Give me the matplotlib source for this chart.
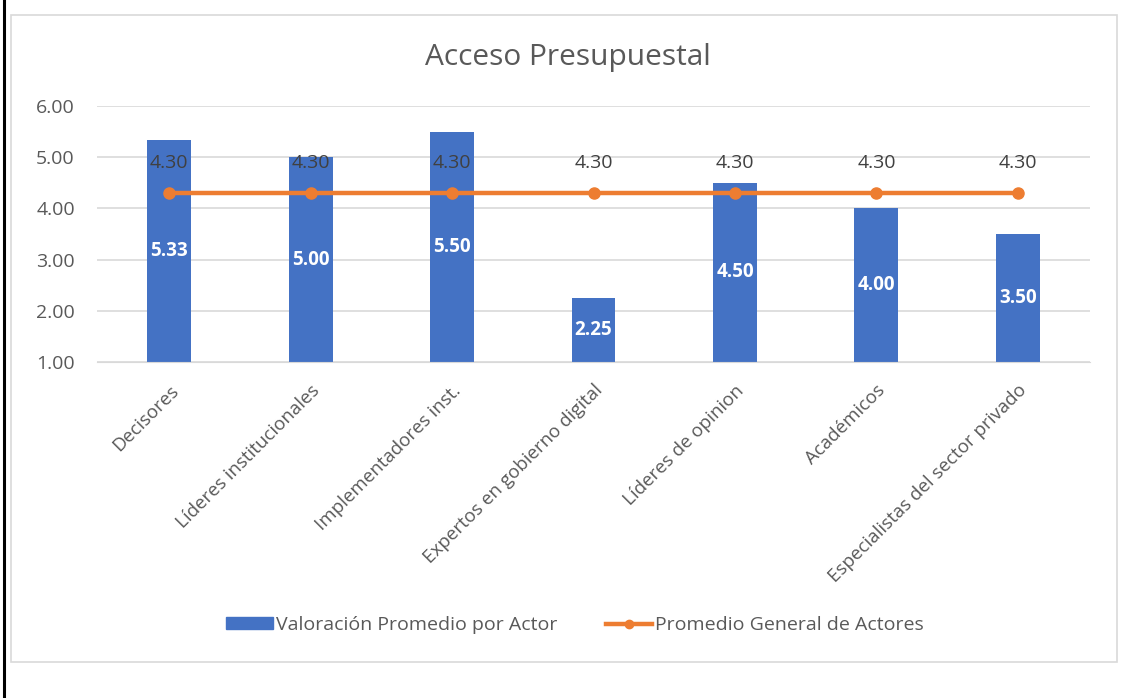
import matplotlib.pyplot as plt
from matplotlib.patches import Rectangle
from matplotlib.lines import Line2D

actores = [
    "Decisores",
    "Líderes institucionales",
    "Implementadores inst.",
    "Expertos en gobierno digital",
    "Líderes de opinion",
    "Académicos",
    "Especialistas del sector privado",
]
valoracion = [5.33, 5.00, 5.50, 2.25, 4.50, 4.00, 3.50]
promedio_general = [4.30, 4.30, 4.30, 4.30, 4.30, 4.30, 4.30]
y_ticks = [1, 2, 3, 4, 5, 6]

BLUE = "#4472c4"
ORANGE = "#ed7d31"
GRAY = "#595959"
GRID = "#d9d9d9"

plt.rcParams["font.family"] = ["Open Sans", "DejaVu Sans"]

fig = plt.figure(figsize=(11.26, 6.98), dpi=100)
W, H = 1126, 698

# page border on the left and the chart frame
fig.add_artist(Line2D([4 / W, 4 / W], [0, 1], color="black", lw=2.2))
fig.add_artist(Rectangle((11 / W, 1 - 662 / H), 1106 / W, 647 / H,
                         fill=False, edgecolor=GRID, lw=1.2))

ax = fig.add_axes([97 / W, 1 - 362 / H, 993 / W, 256 / H])
x = list(range(len(actores)))
ax.bar(x, [v - 1 for v in valoracion], bottom=1, width=0.31, color=BLUE, zorder=2)
ax.plot(x, promedio_general, color=ORANGE, lw=3.2, marker="o", ms=8, zorder=3)

for xi, v in zip(x, valoracion):
    ax.text(xi, (1 + v) / 2, f"{v:.2f}", color="white", ha="center", va="center",
            fontsize=13.5, fontweight="bold", zorder=4)
for xi, v in zip(x, promedio_general):
    ax.text(xi, v + 0.41, f"{v:.2f}", color="#404040", ha="center", va="bottom",
            fontsize=14, zorder=4)

ax.set_xlim(-0.51, 6.51)
ax.set_ylim(1, 6)
ax.set_yticks(y_ticks)
ax.set_yticklabels([f"{t:.2f}" for t in y_ticks], color=GRAY, fontsize=14)
ax.set_xticks(x)
ax.set_xticklabels(actores, rotation=45, ha="right", rotation_mode="anchor",
                   color=GRAY, fontsize=13.5)
ax.tick_params(axis="y", length=0, pad=16)
ax.tick_params(axis="x", length=0, pad=14)
ax.grid(axis="y", color=GRID, lw=1.2, zorder=0)
for s in ax.spines.values():
    s.set_visible(False)
ax.spines["bottom"].set_visible(True)
ax.spines["bottom"].set_color(GRID)

fig.text(568 / W, 1 - 57 / H, "Acceso Presupuestal", ha="center", va="center",
         fontsize=21.5, color=GRAY)

handles = [
    Rectangle((0, 0), 1, 1, color=BLUE),
    Line2D([], [], color=ORANGE, lw=3.2, marker="o", ms=6),
]
fig.legend(handles, ["Valoración Promedio por Actor", "Promedio General de Actores"],
           loc="center", bbox_to_anchor=(575 / W, 1 - 625 / H), ncol=2, frameon=False,
           fontsize=14, labelcolor=GRAY, handlelength=2.4, handleheight=0.55,
           handletextpad=0.15, columnspacing=2.5)

fig.savefig("out.png", dpi=100)
